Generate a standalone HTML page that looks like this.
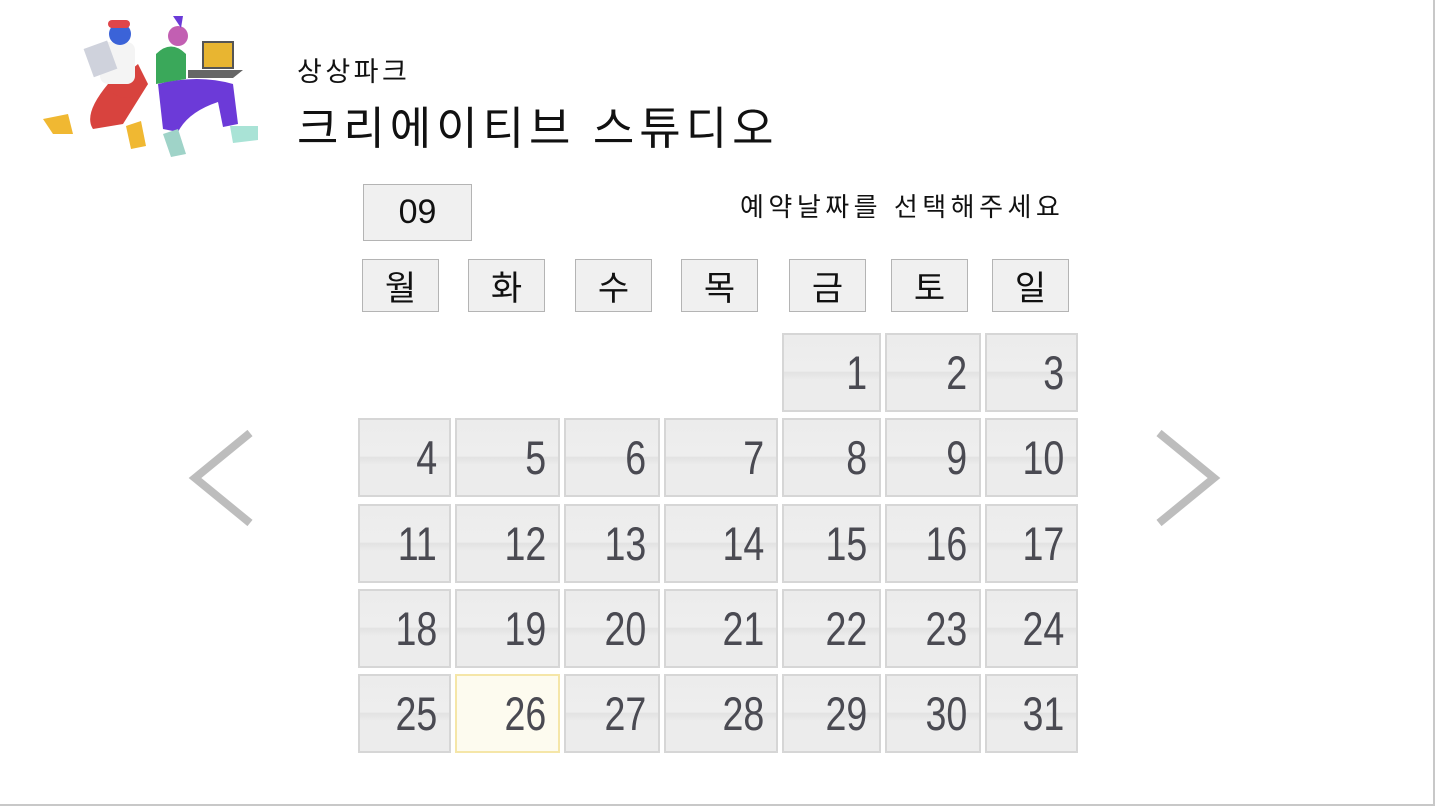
<!DOCTYPE html>
<html><head><meta charset="utf-8">
<style>
body{margin:0;width:1436px;height:808px;background:#fff;position:relative;overflow:hidden;font-family:"Liberation Sans","Noto Sans CJK KR",sans-serif}
.frame{position:absolute;left:0;top:0;width:1433px;height:804px;border-right:2px solid #c8c8c8;border-bottom:2px solid #c8c8c8}
.abs{position:absolute}
.box{position:absolute;background:#f0f0f0;border:1px solid #b4b4b4;box-sizing:border-box;display:flex;align-items:center;justify-content:center;color:#111;font-size:34px}
.cell{position:absolute;box-sizing:border-box;border:2px solid #d6d6d6;background:linear-gradient(#ececec 0%,#eeeeee 48%,#e2e2e2 50%,#ececec 60%,#ececec 100%);color:#4a4a52;font-size:47px;text-align:right;padding-right:12px;display:flex;align-items:center;justify-content:flex-end}
.cell span{display:inline-block;transform:scaleX(0.8);transform-origin:right center}
.cell.sel{background:#fdfbef;border-color:#f5e6a8}
</style></head><body>
<div class="frame"></div>
<svg class="abs" style="left:38px;top:14px" width="235" height="148">
 <path d="M70 70 q-25 30 -15 45 l30 -5 l25 -40z" fill="#d8433e"/>
 <path d="M70 75 q20 20 40 -5 l-10 -20z" fill="#d8433e"/>
 <rect x="62" y="28" width="35" height="42" rx="8" fill="#f4f4f4"/>
 <circle cx="82" cy="20" r="11" fill="#3b63d8"/>
 <rect x="70" y="6" width="22" height="8" rx="4" fill="#e0454a"/>
 <rect x="50" y="30" width="25" height="30" fill="#cfd2dc" transform="rotate(-20 62 45)"/>
 <path d="M5 105 l25 -5 l5 20 l-20 0z" fill="#f0b832"/>
 <path d="M88 112 l15 -5 l5 25 l-15 3z" fill="#f0b832"/>
 <path d="M118 40 q15 -15 30 0 l0 25 l-30 5z" fill="#3aa85a"/>
 <circle cx="140" cy="22" r="10" fill="#c25fb2"/>
 <path d="M135 2 l10 0 l-2 12 z" fill="#6a3ad8"/>
 <rect x="165" y="28" width="30" height="26" fill="#e8b531" stroke="#555" stroke-width="2"/>
 <path d="M150 56 l55 0 l-10 8 l-45 0z" fill="#666"/>
 <path d="M120 70 q40 -10 75 0 l5 40 l-15 3 l-5 -25 q-30 10 -40 30 l-15 -3z" fill="#6c3ad8"/>
 <path d="M125 120 l15 -5 l8 25 l-15 3z" fill="#9fd3c8"/>
 <path d="M192 112 l28 0 l0 14 l-25 3z" fill="#a9e3d6"/>
</svg>
<div class="abs" style="left:297px;top:50px;font-size:27px;letter-spacing:3.5px;color:#111">상상파크</div>
<div class="abs" style="left:297px;top:92px;font-size:45px;letter-spacing:5px;color:#111">크리에이티브 스튜디오</div>
<div class="box" style="left:363px;top:184px;width:109px;height:57px;font-size:34px">09</div>
<div class="abs" style="left:740px;top:187px;font-size:26px;letter-spacing:4.5px;color:#111">예약날짜를 선택해주세요</div>
<svg class="abs" style="left:185px;top:428px" width="72" height="100"><polyline points="65,5 10,50 65,95" fill="none" stroke="#bdbdbd" stroke-width="8"/></svg>
<svg class="abs" style="left:1152px;top:428px" width="72" height="100"><polyline points="7,5 62,50 7,95" fill="none" stroke="#bdbdbd" stroke-width="8"/></svg>
<script>
const days=['월','화','수','목','금','토','일'];
const hx=[362,468,575,681,789,891,992];
const cx=[358,455,564,664,782,885,985,1082];
const ry=[333,418,504,589,674];
const firstCol=4, nDays=31, selected=26;
days.forEach((d,i)=>{const e=document.createElement('div');e.className='box';
e.style.cssText=`left:${hx[i]}px;top:259px;width:77px;height:53px`;e.textContent=d;


document.body.appendChild(e);});
for(let d=1;d<=nDays;d++){const p=d-1+firstCol,r=Math.floor(p/7),c=p%7;
const e=document.createElement('div');e.className='cell'+(d===selected?' sel':'');
e.style.cssText=`left:${cx[c]}px;top:${ry[r]}px;width:${cx[c+1]-cx[c]-4}px;height:79px`;
const s=document.createElement('span');s.textContent=d;e.appendChild(s);


document.body.appendChild(e);}
</script>
</body></html>
